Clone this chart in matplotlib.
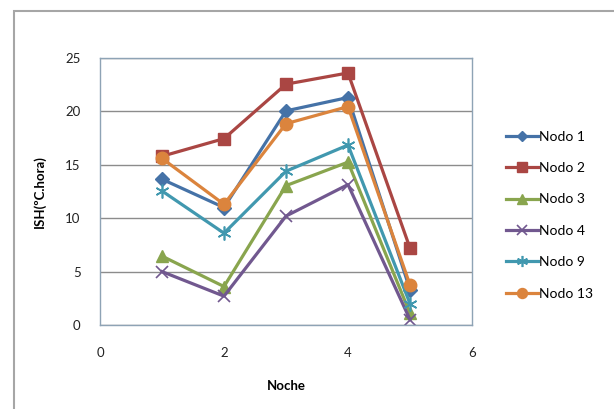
import matplotlib.pyplot as plt
from matplotlib.patches import Rectangle

plt.rcParams['font.family'] = ['Lato', 'DejaVu Sans']

noche = [1, 2, 3, 4, 5]
nodo1 = [13.65, 11.0, 20.05, 21.3, 3.3]
nodo2 = [15.8, 17.45, 22.55, 23.6, 7.2]
nodo3 = [6.45, 3.6, 13.05, 15.25, 1.1]
nodo4 = [5.0, 2.7, 10.2, 13.15, 0.5]
nodo9 = [12.55, 8.6, 14.4, 16.85, 2.0]
nodo13 = [15.6, 11.3, 18.85, 20.45, 3.75]

series = [
    ('Nodo 1', nodo1, '#4572A7', 'D', 7),
    ('Nodo 2', nodo2, '#AA4643', 's', 9),
    ('Nodo 3', nodo3, '#89A54E', '^', 9),
    ('Nodo 4', nodo4, '#71588F', 'x', 9),
    ('Nodo 9', nodo9, '#4198AF', '*', 0),
    ('Nodo 13', nodo13, '#DB843D', 'o', 9),
]

fig = plt.figure(figsize=(6.14, 4.09), dpi=100)
# outer chart border (only top/left edges visible in the crop)
fig.patches.append(Rectangle((14 / 614, -0.1), 1.2, (409 - 11) / 409 + 0.1,
                             transform=fig.transFigure, fill=False,
                             edgecolor='#a6a6a6', lw=1.5))

ax = fig.add_axes([100 / 614, 1 - 325 / 409, 372 / 614, 267 / 409])

for name, vals, col, mk, ms in series:
    if mk == '*':
        # asterisk-like marker: x plus vertical bar
        ax.plot(noche, vals, color=col, lw=2.3, marker=(6, 2, 0), ms=10,
                mew=1.2, label=name)
    elif mk == 'x':
        ax.plot(noche, vals, color=col, lw=2.3, marker='x', ms=ms,
                mew=1.2, label=name)
    else:
        ax.plot(noche, vals, color=col, lw=2.3, marker=mk, ms=ms,
                mec=col, label=name)

ax.set_xlim(0, 6)
ax.set_ylim(0, 25)
ax.set_xticks([0, 2, 4, 6])
ax.set_yticks([0, 5, 10, 15, 20, 25])
ax.yaxis.grid(True, color='#8c8c8c', lw=1)
ax.set_axisbelow(True)
for s in ax.spines.values():
    s.set_color('#8ea3b5')
    s.set_linewidth(1)
ax.tick_params(length=0, labelsize=9.5, colors='#222222')
ax.tick_params(axis='x', pad=16)
ax.tick_params(axis='y', pad=14)

ax.set_xlabel('Noche', fontsize=9.5, fontweight='bold', labelpad=15)
ax.set_ylabel('ISH(ºC.hora)', fontsize=9.5, fontweight='bold', labelpad=14)

ax.legend(loc='upper left', bbox_to_anchor=(500 / 614, 1 - 125 / 409),
          bbox_transform=fig.transFigure, frameon=False, fontsize=10,
          handlelength=2.3, handletextpad=0.1, labelspacing=1.4,
          borderaxespad=0, markerscale=0.8)

fig.savefig('out.png', dpi=100)
